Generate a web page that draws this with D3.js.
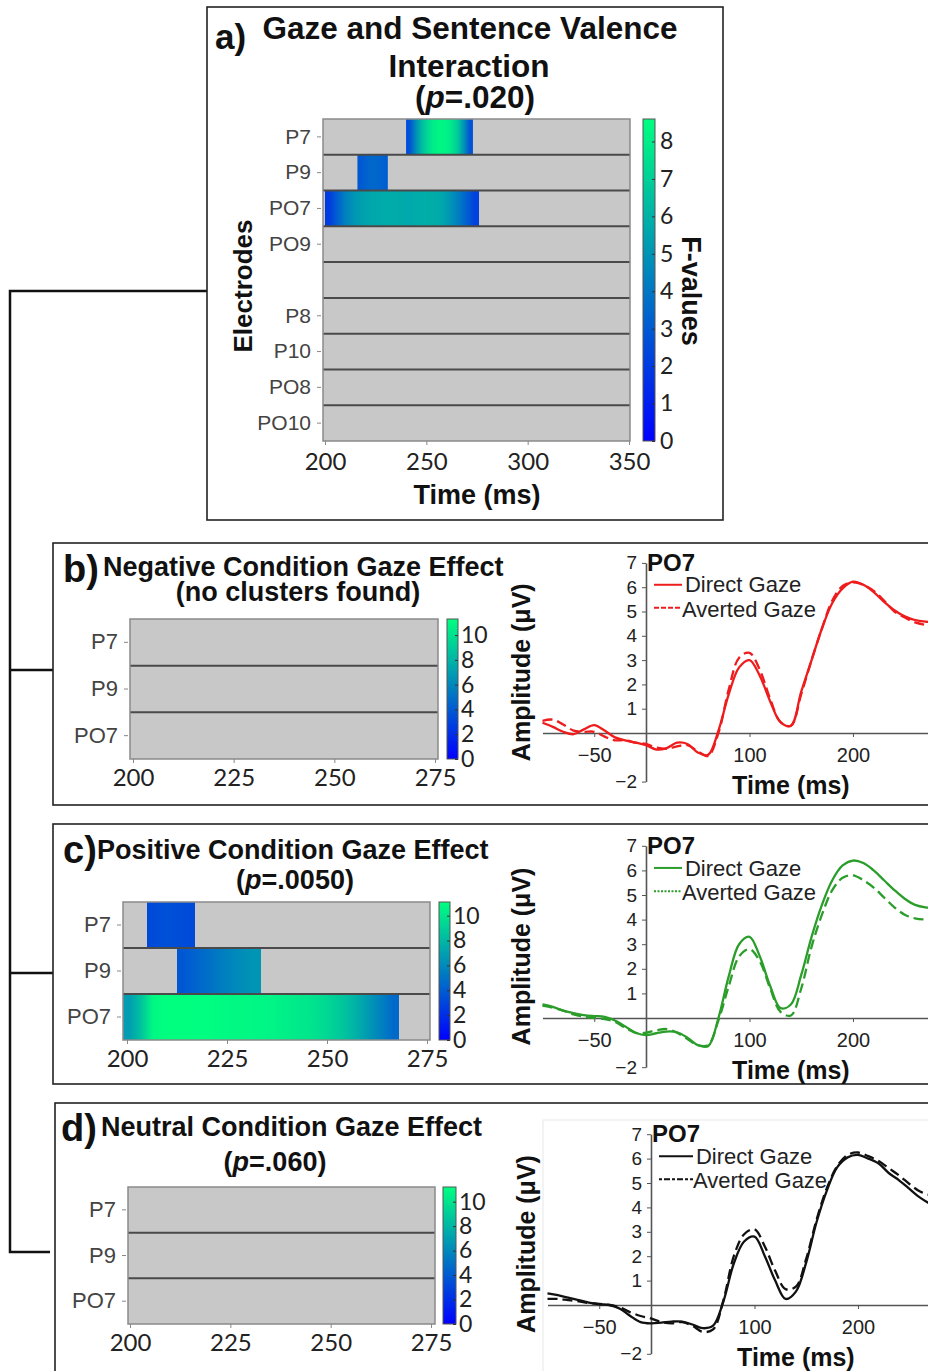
<!DOCTYPE html>
<html>
<head>
<meta charset="utf-8">
<script src="https://cdn.jsdelivr.net/npm/d3@7"></script>
<style>
  body { margin: 0; background: #fff; }
  svg { display: block; }
  text { font-family: "Liberation Sans", Arial, sans-serif; }
</style>
</head>
<body>
<div id="fig"></div>
<script>
// electrodes shown in each heatmap
const electrodesA = ['P7', 'P9', 'PO7', 'PO9', '', 'P8', 'P10', 'PO8', 'PO10']
const electrodesBCD = ['P7', 'P9', 'PO7']

const timeTicksA = [200, 250, 300, 350]
const timeTicksBCD = [200, 225, 250, 275]
const colorTicksA = [0, 1, 2, 3, 4, 5, 6, 7, 8]
const colorTicksBCD = [0, 2, 4, 6, 8, 10]

// significant clusters: start time (ms), bin width (ms), F-values per bin
const clustersA = [
    { electrode: 'P7', start: 240, step: 3, f: [2.6, 4.6, 6.2, 7.3, 8.0, 8.3, 8.2, 7.8, 6.8, 5.0, 2.8] },
    { electrode: 'P9', start: 216, step: 3, f: [3.0, 3.3, 3.5, 3.4, 3.2] },
    { electrode: 'PO7', start: 200, step: 4, f: [2.0, 3.2, 4.3, 5.0, 5.4, 5.6, 5.7, 5.8, 5.8, 5.7, 5.7, 5.8, 5.9, 5.8, 5.6, 5.0, 4.2, 3.2, 2.2] },
]
const clustersB = []
const clustersC = [
    { electrode: 'P7', start: 205, step: 2, f: [3.2, 3.4, 3.5, 3.4, 3.3, 3.2] },
    { electrode: 'P9', start: 212.5, step: 3, f: [3.8, 4.3, 4.8, 5.3, 5.8, 6.2, 6.5] },
    { electrode: 'PO7', start: 199, step: 3, f: [6.8, 8.5, 10.8, 11.2, 11.2, 11.2, 11.1, 11.0, 10.9, 10.8, 10.8, 10.7, 10.6, 10.4, 10.2, 10.0, 9.6, 9.1, 8.5, 7.6, 6.6, 5.6, 4.6] },
]
const clustersD = []

// ERP waveforms at PO7 (µV), sampled every 10 ms
const erpTimes = [-100, -90, -80, -70, -60, -50, -40, -30, -20, -10, 0, 10, 20, 30, 40, 50, 60, 70, 80, 90, 100, 110, 120, 130, 140, 150, 160, 170, 180, 190, 200, 210, 220, 230, 240, 250, 260, 270, 280]
const negDirect = [0.42, 0.25, 0.05, -0.05, 0.15, 0.32, 0.1, -0.18, -0.3, -0.4, -0.5, -0.68, -0.62, -0.4, -0.45, -0.8, -0.9, 0.1, 1.6, 2.7, 3.0, 2.35, 1.3, 0.45, 0.3, 1.7, 3.0, 4.3, 5.35, 5.95, 6.23, 6.1, 5.8, 5.4, 5.05, 4.8, 4.65, 4.58, 4.55]
const negAverted = [0.5, 0.55, 0.35, 0.1, 0.05, 0.05, -0.15, -0.3, -0.3, -0.4, -0.45, -0.6, -0.65, -0.55, -0.5, -0.75, -0.95, 0.0, 1.8, 3.1, 3.3, 2.6, 1.4, 0.45, 0.3, 1.6, 3.0, 4.3, 5.45, 6.05, 6.2, 6.1, 5.85, 5.45, 5.0, 4.75, 4.55, 4.45, 4.4]
const posDirect = [0.55, 0.45, 0.3, 0.2, 0.12, 0.08, 0.05, -0.1, -0.35, -0.6, -0.7, -0.62, -0.55, -0.58, -0.8, -1.1, -1.15, 0.0, 1.7, 3.0, 3.3, 2.5, 1.3, 0.4, 0.55, 1.75, 3.3, 4.6, 5.6, 6.2, 6.4, 6.3, 6.0, 5.6, 5.2, 4.85, 4.6, 4.5, 4.48]
const posAverted = [0.5, 0.42, 0.3, 0.15, 0.05, 0.0, -0.05, -0.15, -0.4, -0.6, -0.6, -0.5, -0.45, -0.6, -0.85, -1.1, -1.1, -0.1, 1.3, 2.5, 2.8, 2.3, 1.2, 0.25, 0.1, 1.2, 2.9, 4.2, 5.2, 5.7, 5.8, 5.6, 5.3, 4.9, 4.5, 4.2, 4.05, 4.0, 4.0]
const neuDirect = [0.48, 0.4, 0.3, 0.2, 0.1, 0.03, 0.0, -0.15, -0.45, -0.7, -0.75, -0.72, -0.68, -0.68, -0.8, -0.95, -0.85, 0.15, 1.7, 2.6, 2.8, 2.0, 1.0, 0.25, 0.55, 1.75, 3.4, 4.7, 5.65, 6.05, 6.15, 6.0, 5.8, 5.4, 5.1, 4.75, 4.4, 4.15, 4.05]
const neuAverted = [0.25, 0.25, 0.2, 0.15, 0.08, 0.05, 0.0, -0.1, -0.3, -0.45, -0.55, -0.7, -0.75, -0.7, -0.85, -1.1, -1.0, 0.2, 2.0, 2.9, 3.1, 2.4, 1.4, 0.65, 0.75, 1.9, 3.5, 4.8, 5.7, 6.15, 6.25, 6.1, 5.9, 5.6, 5.3, 4.95, 4.65, 4.5, 4.4]

const ampTicks = [-2, 1, 2, 3, 4, 5, 6, 7]
const erpTimeTicks = [-50, 100, 200]

const W = 928, H = 1371
const svg = d3.select('#fig').append('svg').attr('width', W).attr('height', H)
const defs = svg.append('defs')

const blue = '#0000ff', spring = '#00ff80'   // winter colormap ends

// left bracket joining the panels
const bracket = [[[207, 291], [10, 291], [10, 1252], [50, 1252]], [[10, 670], [53, 670]], [[10, 973], [53, 973]]]
bracket.forEach(pts => {
    svg.append('path').attr('d', d3.line()(pts))
        .attr('fill', 'none').attr('stroke', '#111').attr('stroke-width', 2.5)
})

// panel frames
svg.append('rect').attr('x', 207).attr('y', 7).attr('width', 516).attr('height', 513)
    .attr('fill', 'none').attr('stroke', '#222').attr('stroke-width', 1.6)
;[[53, 543, 262], [53, 824, 260], [55, 1103, 300]].forEach(b => {
    svg.append('rect').attr('x', b[0]).attr('y', b[1]).attr('width', 1000).attr('height', b[2])
        .attr('fill', 'none').attr('stroke', '#222').attr('stroke-width', 1.6)
})
svg.append('rect').attr('x', 543).attr('y', 1120).attr('width', 500).attr('height', 400)
    .attr('fill', 'none').attr('stroke', '#e8e8e8').attr('stroke-width', 1)

function heatmap(cfg) {
    const g = svg.append('g')
    const x = d3.scaleLinear().domain([cfg.t0, cfg.t1]).range(cfg.xr)
    const y = d3.scaleBand().domain(cfg.electrodes).range(cfg.yr)
    const color = d3.scaleLinear().domain([0, cfg.cmax]).range([blue, spring])

    g.append('rect').attr('x', cfg.box[0]).attr('y', cfg.yr[0])
        .attr('width', cfg.box[1] - cfg.box[0]).attr('height', cfg.yr[1] - cfg.yr[0])
        .attr('fill', '#c8c8c8')

    // each cluster: one rect shaded by a gradient through its F-values
    cfg.clusters.forEach((c, k) => {
        const n = c.f.length
        const id = `cl-${cfg.id}-${k}`
        const lg = defs.append('linearGradient').attr('id', id)
        lg.append('stop').attr('offset', 0).attr('stop-color', color(c.f[0]))
        c.f.forEach((v, i) => {
            lg.append('stop').attr('offset', (i + 0.5) / n).attr('stop-color', color(v))
        })
        lg.append('stop').attr('offset', 1).attr('stop-color', color(c.f[n - 1]))
        g.append('rect')
            .attr('x', x(c.start))
            .attr('y', y(c.electrode))
            .attr('width', x(c.start + n * c.step) - x(c.start))
            .attr('height', y.bandwidth())
            .attr('fill', `url(#${id})`)
    })

    // row separators
    g.selectAll(null).data(cfg.electrodes.slice(1)).enter().append('line')
        .attr('x1', cfg.box[0]).attr('x2', cfg.box[1])
        .attr('y1', d => y(d)).attr('y2', d => y(d))
        .attr('stroke', '#4a4a4a').attr('stroke-width', 2)
    g.append('rect').attr('x', cfg.box[0]).attr('y', cfg.yr[0])
        .attr('width', cfg.box[1] - cfg.box[0]).attr('height', cfg.yr[1] - cfg.yr[0])
        .attr('fill', 'none').attr('stroke', '#8a8a8a').attr('stroke-width', 1.5)

    const ya = g.append('g').attr('transform', `translate(${cfg.box[0] - 2},0)`)
        .call(d3.axisLeft(y).tickSize(4).tickPadding(6))
    ya.select('.domain').remove()
    ya.selectAll('.tick').filter(d => d === '').remove()
    ya.selectAll('line').attr('stroke', '#888')
    ya.selectAll('text').attr('font-size', cfg.elFont).attr('fill', '#444')

    const xa = g.append('g').attr('transform', `translate(0,${cfg.yr[1]})`)
        .call(d3.axisBottom(x).tickValues(cfg.ticks).tickSize(4).tickPadding(cfg.tickPad))
    xa.select('.domain').remove()
    xa.selectAll('line').attr('stroke', '#888')
    xa.selectAll('text').attr('font-size', cfg.tickFont).attr('fill', '#222')
        .style('font-family', 'Lato, "Open Sans", sans-serif')

    // colorbar
    const cy = d3.scaleLinear().domain([0, cfg.cmax]).range([cfg.yr[1], cfg.yr[0]])
    const gid = 'grad' + cfg.id
    const grad = defs.append('linearGradient').attr('id', gid)
        .attr('x1', 0).attr('x2', 0).attr('y1', 1).attr('y2', 0)
    grad.append('stop').attr('offset', 0).attr('stop-color', blue)
    grad.append('stop').attr('offset', 1).attr('stop-color', spring)
    g.append('rect').attr('x', cfg.cbx).attr('y', cfg.yr[0]).attr('width', cfg.cbw)
        .attr('height', cfg.yr[1] - cfg.yr[0]).attr('fill', `url(#${gid})`)
        .attr('stroke', '#555').attr('stroke-width', 1)
    const ca = g.append('g').attr('transform', `translate(${cfg.cbx + cfg.cbw},0)`)
        .call(d3.axisRight(cy).tickValues(cfg.cticks).tickSize(-3).tickPadding(cfg.cpad))
    ca.select('.domain').remove()
    ca.selectAll('line').attr('stroke', '#333')
    ca.selectAll('text').attr('font-size', cfg.cFont).attr('fill', '#222')
        .style('font-family', 'Lato, "Open Sans", sans-serif')
    return g
}

function erp(cfg) {
    const g = svg.append('g')
    const x = d3.scaleLinear().domain([-100, 275]).range(cfg.xr)
    const y = d3.scaleLinear().domain([-2, 7]).range(cfg.yr)

    const xa = g.append('g').attr('transform', `translate(0,${y(0)})`)
        .call(d3.axisBottom(x).tickValues(erpTimeTicks).tickSize(4).tickSizeOuter(0).tickPadding(11))
    xa.select('.domain').attr('stroke', '#555').attr('stroke-width', 1.6)
    xa.selectAll('line').attr('stroke', '#555')
    xa.selectAll('text').attr('font-size', 20).attr('fill', '#222')

    const ya = g.append('g').attr('transform', `translate(${x(0)},0)`)
        .call(d3.axisLeft(y).tickValues(ampTicks).tickSize(4).tickSizeOuter(0).tickPadding(5))
    ya.select('.domain').attr('stroke', '#555').attr('stroke-width', 1.6)
    ya.selectAll('line').attr('stroke', '#555')
    ya.selectAll('text').attr('font-size', 19).attr('fill', '#222')

    const line = d3.line().x((d, i) => x(erpTimes[i])).y(d => y(d))
        .curve(d3.curveCatmullRom.alpha(0.5))
    g.append('path').datum(cfg.averted).attr('d', line).attr('fill', 'none')
        .attr('stroke', cfg.color).attr('stroke-width', 2.3).attr('stroke-dasharray', '10,5')
    g.append('path').datum(cfg.direct).attr('d', line).attr('fill', 'none')
        .attr('stroke', cfg.color).attr('stroke-width', 2.3)

    g.append('text').attr('x', x(0) + 1).attr('y', y(7) + 8).attr('font-size', 24)
        .attr('font-weight', 'bold').attr('fill', '#111').text('PO7')

    // legend
    const lx = x(0) + 8
    const ly = [y(6.1), y(5.15)]
    g.append('line').attr('x1', lx).attr('x2', lx + cfg.legW).attr('y1', ly[0]).attr('y2', ly[0])
        .attr('stroke', cfg.color).attr('stroke-width', 2)
    g.append('line').attr('x1', lx).attr('x2', lx + cfg.legW).attr('y1', ly[1]).attr('y2', ly[1])
        .attr('stroke', cfg.color).attr('stroke-width', 2).attr('stroke-dasharray', cfg.legDash)
    g.append('text').attr('x', lx + cfg.legW + 3).attr('y', ly[0]).attr('dy', '0.35em')
        .attr('font-size', 22).attr('fill', '#222').text('Direct Gaze')
    g.append('text').attr('x', lx + cfg.legW).attr('y', ly[1]).attr('dy', '0.4em')
        .attr('font-size', 22).attr('fill', '#222').text('Averted Gaze')

    g.append('text').attr('x', x(140)).attr('y', y(-2) + 12).attr('text-anchor', 'middle')
        .attr('font-size', 25).attr('font-weight', 'bold').attr('fill', '#111').text('Time (ms)')
    g.append('text').attr('transform', `translate(${x(-100) - 13},${y(2.5)}) rotate(-90)`)
        .attr('text-anchor', 'middle').attr('font-size', 25).attr('font-weight', 'bold')
        .attr('fill', '#111').text('Amplitude (μV)')
}

function title(cfg) {
    svg.append('text').attr('x', cfg.lx).attr('y', cfg.ly).attr('font-size', cfg.lsize)
        .attr('font-weight', 'bold').attr('fill', '#111').text(cfg.letter)
    cfg.lines.forEach(l => {
        const t = svg.append('text').attr('x', l.x).attr('y', l.y)
            .attr('text-anchor', l.anchor || 'middle').attr('font-size', cfg.size)
            .attr('font-weight', 'bold').attr('fill', '#111')
        if (l.p) {
            t.append('tspan').text('(')
            t.append('tspan').attr('font-style', 'italic').text('p')
            t.append('tspan').text(l.p + ')')
        } else t.text(l.text)
    })
}

// panel a
title({ letter: 'a)', lx: 215, ly: 49, lsize: 35, size: 31.5, lines: [
    { text: 'Gaze and Sentence Valence', x: 470, y: 39 },
    { text: 'Interaction', x: 469, y: 77 },
    { p: '=.020', x: 475, y: 108 }] })
heatmap({ id: 'a', electrodes: electrodesA, clusters: clustersA, t0: 200, t1: 350, xr: [325, 629],
    box: [323, 630], yr: [119, 441], cmax: 8.6, ticks: timeTicksA, cticks: colorTicksA,
    cbx: 643, cbw: 12, elFont: 21, tickFont: 24, tickPad: 8, cFont: 23, cpad: 5 })
svg.append('text').attr('x', 477).attr('y', 504).attr('text-anchor', 'middle')
    .attr('font-size', 27).attr('font-weight', 'bold').attr('fill', '#111').text('Time (ms)')
svg.append('text').attr('transform', 'translate(252,286) rotate(-90)').attr('text-anchor', 'middle')
    .attr('font-size', 26).attr('font-weight', 'bold').attr('fill', '#111').text('Electrodes')
svg.append('text').attr('transform', 'translate(682,291) rotate(90)').attr('text-anchor', 'middle')
    .attr('font-size', 27).attr('font-weight', 'bold').attr('fill', '#111').text('F-values')

// panel b
title({ letter: 'b)', lx: 63, ly: 582, lsize: 38, size: 27, lines: [
    { text: 'Negative Condition  Gaze Effect', x: 103, y: 576, anchor: 'start' },
    { text: '(no clusters found)', x: 298, y: 601 }] })
heatmap({ id: 'b', electrodes: electrodesBCD, clusters: clustersB, t0: 200, t1: 275, xr: [133, 435],
    box: [130, 438], yr: [619, 759], cmax: 11.3, ticks: timeTicksBCD, cticks: colorTicksBCD,
    cbx: 447, cbw: 11, elFont: 22, tickFont: 24, tickPad: 6, cFont: 23, cpad: 3 })
erp({ xr: [542.5, 930.6], yr: [781.6, 562.9], color: '#ee1c1c', direct: negDirect, averted: negAverted,
    legW: 28, legDash: '5,2' })

// panel c
title({ letter: 'c)', lx: 63, ly: 863, lsize: 38, size: 27, lines: [
    { text: 'Positive Condition  Gaze Effect', x: 97, y: 859, anchor: 'start' },
    { p: '=.0050', x: 295, y: 889 }] })
heatmap({ id: 'c', electrodes: electrodesBCD, clusters: clustersC, t0: 200, t1: 275, xr: [127, 427],
    box: [123, 430], yr: [902, 1040], cmax: 11.1, ticks: timeTicksBCD, cticks: colorTicksBCD,
    cbx: 439, cbw: 11, elFont: 22, tickFont: 24, tickPad: 6, cFont: 23, cpad: 3 })
erp({ xr: [542.5, 930.6], yr: [1067.2, 845.8], color: '#2a9d2a', direct: posDirect, averted: posAverted,
    legW: 28, legDash: '2,1.5' })

// panel d
title({ letter: 'd)', lx: 61, ly: 1141, lsize: 38, size: 27, lines: [
    { text: 'Neutral Condition  Gaze Effect', x: 101, y: 1136, anchor: 'start' },
    { p: '=.060', x: 275, y: 1171 }] })
heatmap({ id: 'd', electrodes: electrodesBCD, clusters: clustersD, t0: 200, t1: 275, xr: [130, 431],
    box: [128, 435], yr: [1187, 1324], cmax: 11.2, ticks: timeTicksBCD, cticks: colorTicksBCD,
    cbx: 443, cbw: 13, elFont: 22, tickFont: 24, tickPad: 6, cFont: 23, cpad: 3 })
erp({ xr: [547.5, 935.6], yr: [1353.8, 1134.2], color: '#111', direct: neuDirect, averted: neuAverted,
    legW: 34, legDash: '3,2,6,2' })
</script>
</body>
</html>
